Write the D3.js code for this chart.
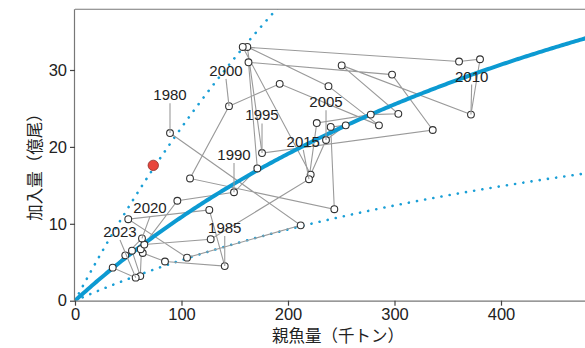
<!DOCTYPE html>
<html>
<head>
<meta charset="utf-8">
<script src="https://cdn.jsdelivr.net/npm/d3@7"></script>
<style>
  body { margin: 0; background: #fff; }
  svg { display: block; }
  .tick text { font-family: "Liberation Sans", Arial, sans-serif; font-size: 16.5px; fill: #222; }
  .yr { font-family: "Liberation Sans", Arial, sans-serif; font-size: 15px; fill: #222; }
  .ttl { font-family: "Noto Sans CJK JP", sans-serif; font-size: 16.5px; fill: #222; }
</style>
</head>
<body>
<svg width="585" height="348"></svg>
<script>
// 年・親魚量(千トン)・加入量(億尾)
var years = d3.range(1980, 2024);
var ssb = [89.2, 211.9, 105.2, 50.0, 126.1, 140.6, 84.5, 63.6, 61.7, 96.1,
           149.3, 171.2, 162.9, 297.7, 335.9, 175.6, 161.8, 238.0, 285.4, 192.2,
           144.6, 108.0, 243.5, 240.1, 254.2, 235.7, 221.3, 157.5, 360.6, 380.3,
           371.8, 250.4, 303.6, 277.7, 227.0, 219.7, 127.4, 65.1, 53.5, 61.3,
           62.9, 47.2, 35.4, 57.0];
var rec = [21.8, 9.8, 5.6, 10.6, 11.8, 4.5, 5.1, 6.2, 6.7, 13.0,
           14.1, 17.2, 31.0, 29.4, 22.2, 19.2, 33.0, 27.9, 22.8, 28.2,
           25.3, 15.9, 11.9, 22.6, 22.8, 20.9, 16.4, 33.0, 31.1, 31.4,
           24.2, 30.6, 24.3, 24.2, 23.1, 15.8, 8.0, 7.3, 6.5, 3.2,
           8.1, 5.9, 4.3, 3.0];
var labelYears = [1980, 1985, 1990, 1995, 2000, 2005, 2010, 2015, 2020, 2023];
// 最新年の加入量（赤丸）
var latest = {ssb: 73.5, rec: 17.6};
// 再生産関係 (Beverton-Holt) と予測区間の倍率
var bhA = 0.1264, bhB = 0.001618;
var upperK = 2.07, lowerK = 0.485;

// ラベルの置き場所（点からのずれ, px: 文字中心x, ベースラインy）
var labelShift = {1980:[0,-32.7], 1985:[0,-33], 1990:[0,-32.3], 1995:[0,-32.6], 2000:[-3,-30.3],
  2005:[0,-32.7], 2010:[0.7,-33], 2015:[-5.7,-32.3], 2020:[8,-25], 2023:[-15.7,-40.6]};

var svg = d3.select("svg");
var x = d3.scaleLinear().domain([0, 480]).range([75, 586.2]);
var y = d3.scaleLinear().domain([0, 37.9]).range([300.7, 9.25]);

svg.append("clipPath").attr("id", "clip")
  .append("rect").attr("x", 75).attr("y", 9.25).attr("width", 520).attr("height", 291.5);

var bh = function(s){ return bhA*s/(1 + bhB*s); };
var sGrid = d3.range(0, 481, 2);

var plot = svg.append("g").attr("clip-path", "url(#clip)");

var line = d3.line().x(d => x(d[0])).y(d => y(d[1]));

// 予測区間（点線）
[upperK, lowerK].forEach(function(k){
  plot.append("path")
    .attr("d", line(sGrid.map(s => [s, k*bh(s)])))
    .style("fill", "none").style("stroke", "#1a9fd6")
    .style("stroke-width", 2.6).style("stroke-linecap", "round")
    .style("stroke-dasharray", "0.1 8.2");
});

// 年の軌跡
var pts = years.map((yr, i) => ({year: yr, s: ssb[i], r: rec[i]}));
plot.append("path")
  .attr("d", line(pts.map(d => [d.s, d.r])))
  .style("fill", "none").style("stroke", "#9a9a9a").style("stroke-width", 1.1);

// 再生産曲線
plot.append("path")
  .attr("d", line(sGrid.map(s => [s, bh(s)])))
  .style("fill", "none").style("stroke", "#0c9ad2").style("stroke-width", 4);

// ラベル
var lab = svg.append("g");
labelYears.forEach(function(yr){
  var d = pts.find(p => p.year === yr);
  var sh = labelShift[yr];
  var px = x(d.s), py = y(d.r);
  var lx = px + sh[0], ly = py + sh[1];
  lab.append("line")
    .attr("x1", lx).attr("y1", ly + 3).attr("x2", px).attr("y2", py)
    .style("stroke", "#9a9a9a").style("stroke-width", 1.1);
  lab.append("text").attr("class", "yr")
    .attr("x", lx).attr("y", ly).attr("text-anchor", "middle")
    .text(yr);
});

plot.selectAll(".pt").data(pts).enter().append("circle")
  .attr("cx", d => x(d.s)).attr("cy", d => y(d.r)).attr("r", 3.4)
  .style("fill", "#fff").style("stroke", "#333").style("stroke-width", 1.1);

svg.append("circle")
  .attr("cx", x(latest.ssb)).attr("cy", y(latest.rec)).attr("r", 5.2)
  .style("fill", "#e8453c").style("stroke", "#8a2a25").style("stroke-width", 0.8);

// 枠と軸
svg.append("line").attr("x1", 75).attr("x2", 590).attr("y1", 9.25).attr("y2", 9.25)
  .style("stroke", "#777").style("stroke-width", 1.2);

var xAxis = svg.append("g").attr("transform", "translate(0,300.7)")
  .call(d3.axisBottom(x).tickValues([0, 100, 200, 300, 400]).tickSize(5).tickPadding(3));
var yAxis = svg.append("g").attr("transform", "translate(75,0)")
  .call(d3.axisLeft(y).tickValues([0, 10, 20, 30]).tickSize(5).tickPadding(3));
[xAxis, yAxis].forEach(function(a){
  a.select(".domain").style("stroke", "#777").style("stroke-width", 1.2);
  a.selectAll(".tick line").style("stroke", "#444").style("stroke-width", 1.2);
});
yAxis.select(".domain").attr("d", "M-0.5,9.25V300.7");
xAxis.select(".domain").attr("d", "M75,0.5H590");

svg.append("text").attr("class", "ttl")
  .attr("x", 338).attr("y", 342).attr("text-anchor", "middle")
  .text("親魚量（千トン）");
svg.append("text").attr("class", "ttl")
  .attr("transform", "translate(41,163) rotate(-90)").attr("text-anchor", "middle")
  .text("加入量（億尾）");
</script>
</body>
</html>
